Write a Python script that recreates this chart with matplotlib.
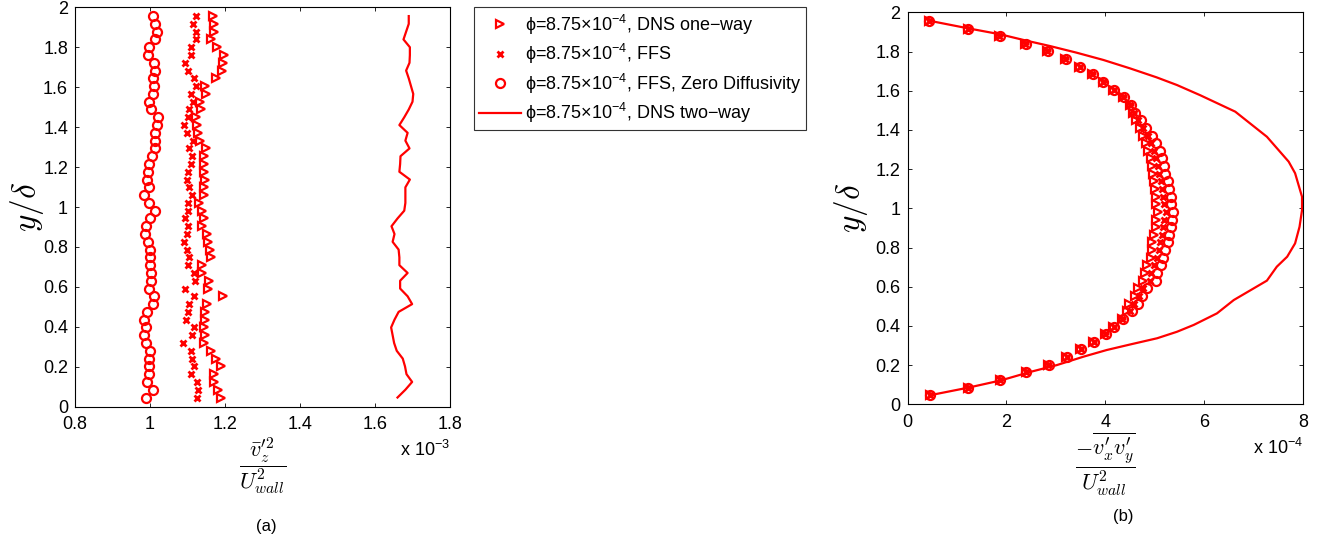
import numpy as np
import matplotlib.pyplot as plt

plt.rcParams['font.family'] = ['Liberation Sans', 'DejaVu Sans']
plt.rcParams['mathtext.fontset'] = 'custom'
plt.rcParams['mathtext.rm'] = 'Liberation Sans'
plt.rcParams['mathtext.it'] = 'Liberation Sans:italic'
plt.rcParams['mathtext.bf'] = 'Liberation Sans:bold'
plt.rcParams['mathtext.fallback'] = 'stixsans'

RED = '#ff0000'

# wall-normal positions y/delta (same grid for all marker series)
y_pts = np.linspace(0.046, 1.956, 50)

# (a) spanwise fluctuation, units of 1e-3
vz_dns_oneway = [1.188, 1.180, 1.170, 1.170, 1.189, 1.176, 1.164, 1.143, 1.147, 1.145,
                 1.147, 1.147, 1.152, 1.194, 1.154, 1.158, 1.140, 1.140, 1.164, 1.161,
                 1.156, 1.152, 1.140, 1.143, 1.140, 1.132, 1.145, 1.145, 1.147, 1.145,
                 1.145, 1.143, 1.149, 1.134, 1.127, 1.125, 1.123, 1.136, 1.134, 1.149,
                 1.147, 1.176, 1.191, 1.194, 1.196, 1.179, 1.164, 1.170, 1.170, 1.167]
vz_ffs = [1.125, 1.129, 1.125, 1.108, 1.118, 1.111, 1.108, 1.089, 1.111, 1.116,
          1.096, 1.100, 1.105, 1.116, 1.092, 1.120, 1.116, 1.100, 1.105, 1.099,
          1.090, 1.099, 1.100, 1.092, 1.102, 1.100, 1.111, 1.105, 1.099, 1.102,
          1.108, 1.111, 1.105, 1.114, 1.099, 1.090, 1.102, 1.105, 1.114, 1.108,
          1.123, 1.116, 1.100, 1.093, 1.108, 1.109, 1.123, 1.123, 1.114, 1.123]
vz_ffs_zd = [0.989, 1.007, 0.992, 0.998, 0.996, 0.996, 1.001, 0.989, 0.985, 0.989,
             0.983, 0.992, 1.007, 1.010, 0.998, 1.003, 1.003, 1.001, 1.001, 1.001,
             0.994, 0.987, 0.989, 1.001, 1.013, 0.996, 0.985, 0.996, 0.992, 0.994,
             0.998, 1.004, 1.012, 1.012, 1.013, 1.019, 1.022, 1.003, 0.998, 1.007,
             1.010, 1.007, 1.013, 1.010, 0.994, 0.998, 1.013, 1.019, 1.013, 1.007]
vz_dns_twoway = [1.660, 1.681, 1.699, 1.684, 1.680, 1.674, 1.658, 1.651, 1.647, 1.643,
                 1.652, 1.663, 1.699, 1.687, 1.667, 1.667, 1.687, 1.665, 1.665, 1.663,
                 1.647, 1.652, 1.644, 1.660, 1.678, 1.681, 1.681, 1.681, 1.693, 1.665,
                 1.667, 1.668, 1.692, 1.681, 1.687, 1.665, 1.678, 1.690, 1.700, 1.702,
                 1.696, 1.690, 1.683, 1.692, 1.693, 1.693, 1.676, 1.683, 1.690, 1.690]

# (b) Reynolds shear stress, units of 1e-4
uv_dns_oneway = [0.45, 1.22, 1.87, 2.39, 2.85, 3.21, 3.49, 3.76, 3.99, 4.16,
                 4.33, 4.45, 4.48, 4.60, 4.67, 4.77, 4.81, 4.85, 4.92, 4.95,
                 4.94, 4.99, 5.02, 5.02, 5.07, 5.02, 5.02, 5.01, 4.99, 4.97,
                 4.95, 4.92, 4.87, 4.82, 4.77, 4.70, 4.62, 4.57, 4.50, 4.35,
                 4.16, 3.95, 3.73, 3.47, 3.18, 2.83, 2.38, 1.86, 1.22, 0.44]
uv_ffs = [0.45, 1.22, 1.88, 2.40, 2.85, 3.22, 3.50, 3.77, 4.00, 4.17,
          4.34, 4.50, 4.58, 4.68, 4.76, 4.90, 4.93, 4.98, 5.05, 5.08,
          5.10, 5.14, 5.17, 5.19, 5.22, 5.18, 5.17, 5.15, 5.12, 5.09,
          5.06, 5.03, 4.98, 4.92, 4.86, 4.76, 4.67, 4.58, 4.51, 4.36,
          4.17, 3.95, 3.74, 3.48, 3.19, 2.83, 2.38, 1.86, 1.22, 0.44]
uv_ffs_zd = [0.46, 1.23, 1.88, 2.40, 2.86, 3.23, 3.51, 3.78, 4.01, 4.18,
             4.35, 4.55, 4.67, 4.75, 4.85, 5.02, 5.05, 5.12, 5.17, 5.21,
             5.26, 5.29, 5.32, 5.35, 5.37, 5.33, 5.32, 5.28, 5.26, 5.21,
             5.18, 5.14, 5.10, 5.02, 4.95, 4.82, 4.72, 4.60, 4.52, 4.37,
             4.18, 3.96, 3.75, 3.49, 3.20, 2.84, 2.39, 1.87, 1.23, 0.44]
uv_twoway_y = [0.046, 0.085, 0.122, 0.165, 0.200, 0.243, 0.277, 0.305, 0.337, 0.370,
               0.405, 0.464, 0.532, 0.631, 0.702, 0.753, 0.821, 0.906, 0.990, 1.059,
               1.179, 1.238, 1.365, 1.493, 1.577, 1.629, 1.668, 1.714, 1.757, 1.794,
               1.828, 1.855, 1.888, 1.918, 1.957]
uv_twoway = [0.45, 1.23, 1.89, 2.48, 3.02, 3.56, 4.03, 4.50, 5.05, 5.45,
             5.79, 6.26, 6.60, 7.27, 7.47, 7.68, 7.84, 7.93, 7.98, 7.98,
             7.84, 7.71, 7.27, 6.63, 5.92, 5.45, 5.04, 4.50, 3.96, 3.42,
             2.88, 2.41, 1.87, 1.23, 0.44]

labels = [r'ϕ=8.75×10$^{-4}$, DNS one−way',
          r'ϕ=8.75×10$^{-4}$, FFS',
          r'ϕ=8.75×10$^{-4}$, FFS, Zero Diffusivity',
          r'ϕ=8.75×10$^{-4}$, DNS two−way']

W, H = 1325, 541
fig = plt.figure(figsize=(W / 100, H / 100), dpi=100)
ax1 = fig.add_axes([75 / W, 1 - 406.7 / H, 375 / W, 399.4 / H])
ax2 = fig.add_axes([907.5 / W, 1 - 404.3 / H, 395.5 / W, 392 / H])


def draw_panel(ax, tri, crs, circ, line_x, line_y):
    h1, = ax.plot(tri, y_pts, '>', color=RED, mfc='none', ms=6, mew=1.6, ls='none')
    h2, = ax.plot(crs, y_pts, 'x', color=RED, ms=4, mew=2.0, ls='none')
    h3, = ax.plot(circ, y_pts, 'o', color=RED, mfc='none', ms=6.5, mew=1.6, ls='none')
    h4, = ax.plot(line_x, line_y, '-', color=RED, lw=1.6)
    ax.set_ylim(0, 2)
    ax.set_yticks(np.arange(0, 2.01, 0.2))
    ax.set_yticklabels(['0', '0.2', '0.4', '0.6', '0.8', '1', '1.2', '1.4', '1.6', '1.8', '2'])
    ax.tick_params(direction='in', top=True, right=True, length=3.2, width=0.6,
                   labelsize=13)
    ax.tick_params(axis='x', pad=7)
    ax.tick_params(axis='y', pad=5)
    for sp in ax.spines.values():
        sp.set_linewidth(0.8)
    ax.set_ylabel(r'$y/\delta$', fontsize=24, math_fontfamily='cm')
    return [h1, h2, h3, h4]


handles = draw_panel(ax1, vz_dns_oneway, vz_ffs, vz_ffs_zd, vz_dns_twoway, y_pts)
ax1.set_xlim(0.8, 1.8)
ax1.set_xticks([0.8, 1.0, 1.2, 1.4, 1.6, 1.8])
ax1.set_xticklabels(['0.8', '1', '1.2', '1.4', '1.6', '1.8'])
ax1.set_xlabel(r'$\dfrac{\bar{v}_z^{\prime 2}}{U_{wall}^2}$', fontsize=16,
               math_fontfamily='cm', labelpad=2)
ax1.yaxis.set_label_coords(-0.078, 0.5)

draw_panel(ax2, uv_dns_oneway, uv_ffs, uv_ffs_zd, uv_twoway, uv_twoway_y)
ax2.set_xlim(0, 8)
ax2.set_xticks([0, 2, 4, 6, 8])
ax2.set_xticklabels(['0', '2', '4', '6', '8'])
ax2.set_xlabel(r'$\dfrac{-\overline{v_x^{\prime} v_y^{\prime}}}{U_{wall}^2}$', fontsize=16,
               math_fontfamily='cm', labelpad=0)
ax2.yaxis.set_label_coords(-0.095, 0.5)

fig.text(450 / W, 1 - 450 / H, r'x 10$^{-3}$', ha='right', va='center', fontsize=13)
fig.text(1303 / W, 1 - 448 / H, r'x 10$^{-4}$', ha='right', va='center', fontsize=13)
fig.text(266 / W, 1 - 527 / H, '(a)', ha='center', va='center', fontsize=12)
fig.text(1123 / W, 1 - 517 / H, '(b)', ha='center', va='center', fontsize=12)

leg = fig.legend(handles, labels, loc='upper left', bbox_to_anchor=(474 / W, 1 - 7 / H),
                 fontsize=13, frameon=True, fancybox=False, edgecolor='#333333',
                 framealpha=1, handlelength=2.3, handletextpad=0.2, labelspacing=0.3,
                 borderpad=0.3, borderaxespad=0, numpoints=1)
leg.get_frame().set_linewidth(0.8)

fig.savefig('out.png', dpi=100)
